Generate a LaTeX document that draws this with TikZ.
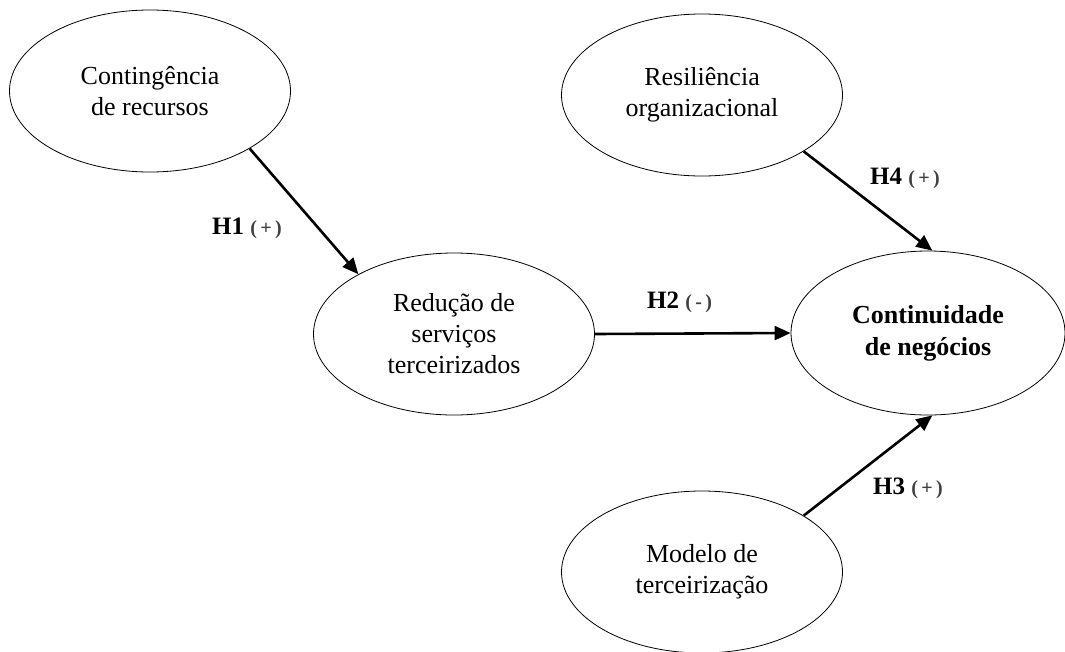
\documentclass[tikz,border=0pt]{standalone}
\usepackage{fontspec}
\setmainfont{Liberation Serif}
\usetikzlibrary{shapes.geometric,arrows.meta}

\tikzset{
  construto/.style={ellipse, draw, line width=0.8pt, minimum width=281pt, minimum height=162pt,
    inner sep=0pt, align=center, font=\fontsize{26}{31}\selectfont},
  hipotese/.style={line width=2.6pt, -{Triangle[length=16pt,width=14pt]}},
  rotulo/.style={font=\fontsize{25}{25}\selectfont\bfseries, inner sep=0pt}
}
\newcommand{\sinal}[1]{{\fontsize{20}{20}\selectfont\color{black!75}(\,#1\,)}}

\begin{document}
\begin{tikzpicture}[x=1pt,y=-1pt]
            \useasboundingbox (0,0) rectangle (1065,651);

            \node[construto] (contingencia) at (150,91) {Contingência\\de recursos};
            \node[construto] (resiliencia) at (702,95) {Resiliência\\organizacional};
            \node[construto] (reducao) at (454,334) {Redução de\\serviços\\terceirizados};
            \node[construto, minimum width=274pt, minimum height=164pt, font=\fontsize{26}{32}\selectfont\bfseries]
                (continuidade) at (928,333) {Continuidade\\de negócios};
            \node[construto] (modelo) at (702,572) {Modelo de\\terceirização};

            \draw[hipotese] (contingencia.-30) -- (reducao.148);
            \draw[hipotese] (reducao.east) -- (continuidade.west);
            \draw[hipotese] (resiliencia.-29) -- (continuidade.87);
            \draw[hipotese] (modelo.29) -- (continuidade.-87);

            \node[rotulo, anchor=west] (h1) at (212,228) {H1 \sinal{+}};
            \node[rotulo, anchor=west] (h2) at (647,302) {H2 \sinal{-}};
            \node[rotulo, anchor=west] (h4) at (870,178) {H4 \sinal{+}};
            \node[rotulo, anchor=west] (h3) at (873,488) {H3 \sinal{+}};
        \end{tikzpicture}
\end{document}
